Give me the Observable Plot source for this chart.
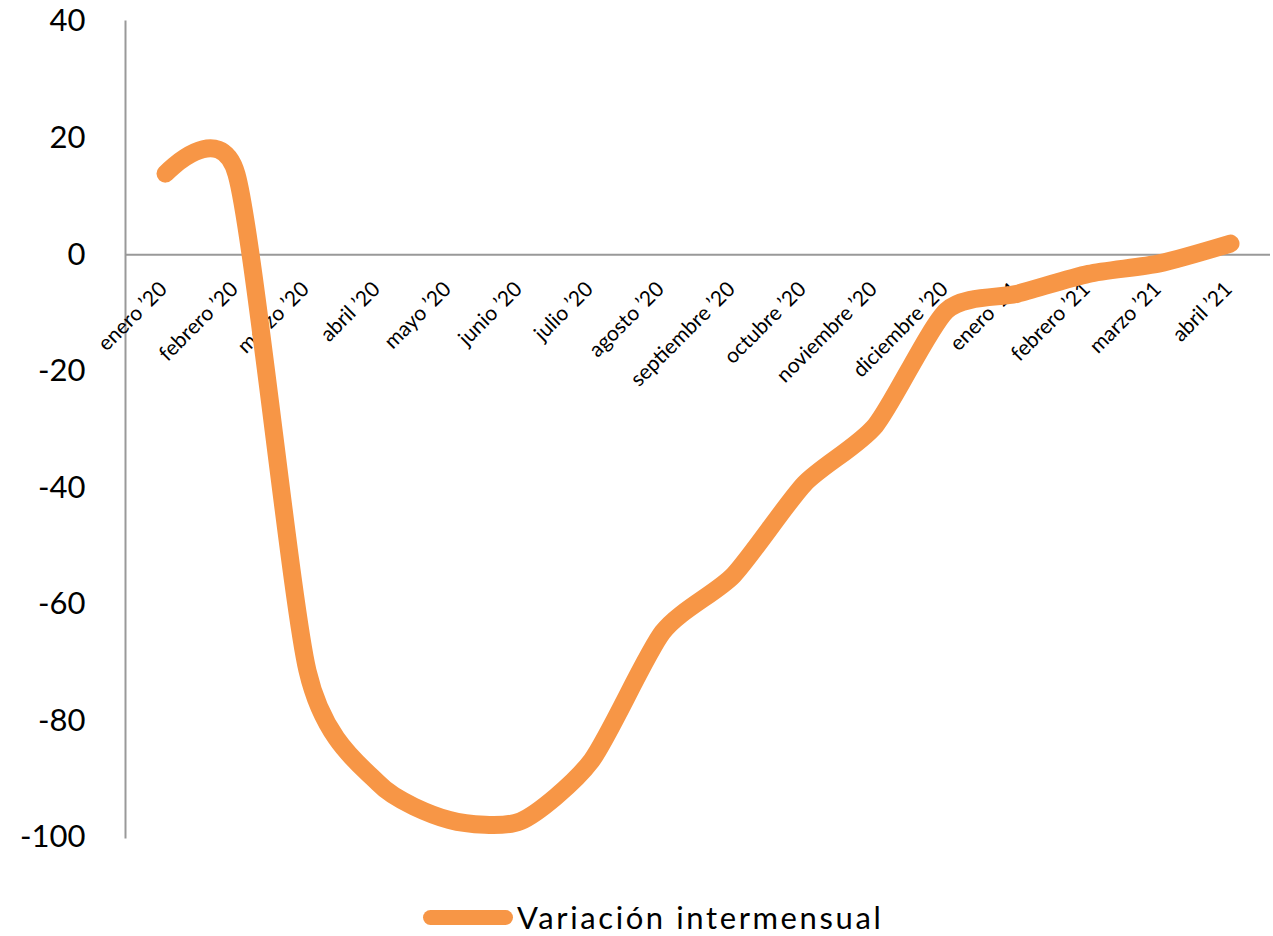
<!DOCTYPE html>
<html><head><meta charset="utf-8">
<script src="https://cdn.jsdelivr.net/npm/d3@7"></script>
<script src="https://cdn.jsdelivr.net/npm/@observablehq/plot@0.6"></script>
<style>
body{margin:0;background:#fff;font-family:Lato,"Open Sans",sans-serif;}
#wrap{position:relative;width:1273px;height:936px;}
#legend{position:absolute;left:423px;top:896px;height:42px;display:flex;align-items:center;font-size:31px;letter-spacing:2.6px;color:#000;}
#legend .sw{width:90px;height:15px;border-radius:8px;background:#F79646;margin-right:4px;}
</style></head><body>
<div id="wrap"><div id="chart"></div><div id="legend"><span class="sw"></span><span id="lt"></span></div></div>
<script>
const months = ["enero ’20","febrero ’20","marzo ’20","abril ’20","mayo ’20","junio ’20","julio ’20","agosto ’20","septiembre ’20","octubre ’20","noviembre ’20","diciembre ’20","enero ’21","febrero ’21","marzo ’21","abril ’21"];
const values = [13.9, 13.8, -71.4, -90.7, -97.0, -97.2, -86.8, -64.8, -55.0, -39.3, -29.3, -9.6, -6.7, -3.3, -1.5, 1.9];
const yTicks = [40, 20, 0, -20, -40, -60, -80, -100];
const seriesName = "Variación intermensual";
const data = months.map((m, i) => ({month: m, value: values[i]}));
document.getElementById("lt").textContent = seriesName;
const chart = Plot.plot({
  width: 1273, height: 880,
  marginTop: 21, marginBottom: 43, marginLeft: 125, marginRight: 3,
  style: {fontFamily: "Lato, 'Open Sans', sans-serif", background: "white", color: "#000"},
  x: {type: "point", domain: months, range: [160, 1235], padding: 0, axis: null},
  y: {domain: [-100, 40], ticks: yTicks},
  marks: [
    Plot.frame({anchor: "left", stroke: "#999", strokeWidth: 2}),
    Plot.ruleY([0], {stroke: "#999", strokeWidth: 2}),
    Plot.axisY({ticks: yTicks, tickSize: 0, tickPadding: 40, fontSize: 31, label: null, tickFormat: d => d, style: {letterSpacing: "2px"}}),
    Plot.text(months, {x: d => d, y: 0, text: d => d, rotate: -45, textAnchor: "end", dx: -2, dy: 31, fontSize: 21, fill: "#000", style: {letterSpacing: "1px"}}),
    Plot.line(data, {x: "month", y: "value", curve: d3.curveCardinal.tension(0.3), stroke: "#F79646", strokeWidth: 18, strokeLinecap: "round", strokeLinejoin: "round"})
  ]
});
document.getElementById("chart").append(chart);
</script>
</body></html>
